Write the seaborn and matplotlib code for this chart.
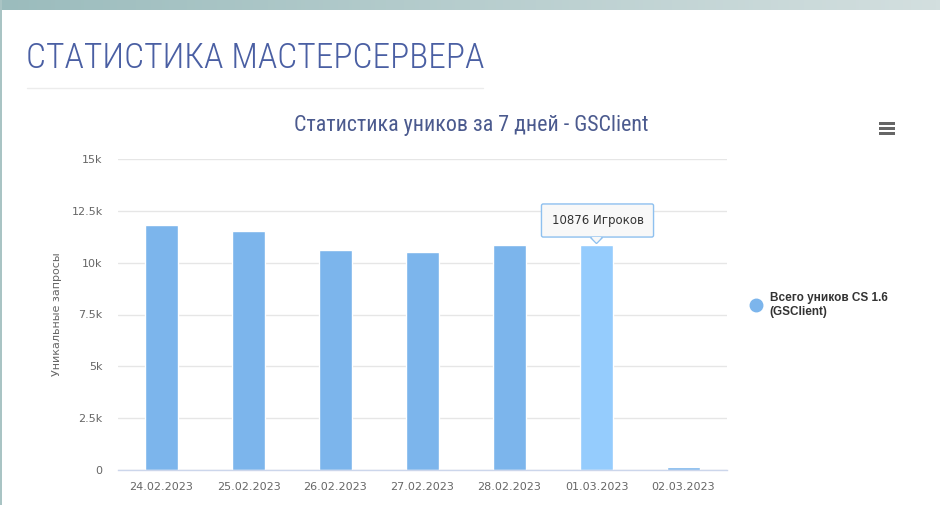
import numpy as np
import pandas as pd
import matplotlib
matplotlib.use("Agg")
import matplotlib.pyplot as plt
import seaborn as sns
from matplotlib.lines import Line2D
from matplotlib.patches import Rectangle, Polygon

# data
dates = ["24.02.2023", "25.02.2023", "26.02.2023", "27.02.2023",
         "28.02.2023", "01.03.2023", "02.03.2023"]
uniques = [11840, 11550, 10590, 10530, 10870, 10876, 140]
y_ticks = [0, 2500, 5000, 7500, 10000, 12500, 15000]
y_tick_labels = ["0", "2.5k", "5k", "7.5k", "10k", "12.5k", "15k"]
hover_idx = 5

page_title = "СТАТИСТИКА МАСТЕРСЕРВЕРА"
chart_title = "Статистика уников за 7 дней - GSClient"
y_title = "Уникальные запросы"
series_name = "Всего уников CS 1.6\n(GSClient)"
tooltip = f"{uniques[hover_idx]} Игроков"

df = pd.DataFrame({"date": dates, "uniques": uniques})

sns.set_theme(style="white")
plt.rcParams["font.family"] = ["DejaVu Sans"]
narrow = ["Roboto Condensed", "DejaVu Sans"]

W, H = 940, 505
fig = plt.figure(figsize=(W / 100, H / 100), dpi=100)

def fx(px):
    return px / W

def fy(py):
    return 1 - py / H

# page decoration: gradient band on top and left border
grad = np.linspace(0, 1, 256).reshape(1, -1)
band = fig.add_axes([0, fy(10), 1, 10 / H])
band.imshow(grad, aspect="auto",
            cmap=matplotlib.colors.LinearSegmentedColormap.from_list("b", ["#9bbcbd", "#d3dfdf"]))
band.axis("off")
fig.add_artist(Rectangle((0, 0), fx(2), 1, transform=fig.transFigure,
                         color="#a9c4c4", lw=0))

fig.text(fx(26), fy(58), page_title, ha="left", va="center", fontsize=25.5,
         color="#4a5fa3", family=narrow, fontweight="light")
fig.add_artist(Line2D([fx(27), fx(483)], [fy(88), fy(88)], transform=fig.transFigure,
                      color="#ececec", lw=1))

fig.text(fx(471), fy(125), chart_title, ha="center", va="center", fontsize=15.8,
         color="#4b5a8e", family=narrow)

# export menu icon
for yy in (123, 128, 133):
    fig.add_artist(Rectangle((fx(879), fy(yy + 1.5)), fx(16), 3 / H,
                             transform=fig.transFigure, color="#666666", lw=0))

ax = fig.add_axes([fx(118), fy(470), fx(727 - 118), (470 - 159) / H])
colors = ["#95ccfd" if i == hover_idx else "#7cb5ec" for i in range(len(dates))]
sns.barplot(data=df, x="date", y="uniques", hue="date", palette=colors,
            width=0.37, legend=False, ax=ax, saturation=1)

ax.set_xlim(-0.5, len(dates) - 0.5)
ax.set_ylim(0, 15000)
ax.set_yticks(y_ticks)
ax.set_yticklabels(y_tick_labels)
ax.yaxis.grid(True, color="#e6e6e6", lw=1)
ax.set_axisbelow(True)
for s in ["top", "right", "left"]:
    ax.spines[s].set_visible(False)
ax.spines["bottom"].set_color("#ccd6eb")
ax.spines["bottom"].set_linewidth(1)
ax.tick_params(axis="y", length=0, pad=11, labelsize=8, labelcolor="#666666")
ax.tick_params(axis="x", length=0, pad=9, labelsize=8, labelcolor="#666666")
ax.set_xticks(np.arange(-0.5, len(dates), 1), minor=True)
ax.tick_params(axis="x", which="minor", length=8, color="#ccd6eb", width=1)
ax.set_xlabel("")
ax.set_ylabel(y_title, fontsize=8, color="#666666", labelpad=7)

# tooltip: box with a small pointer down to the hovered bar
hx, hy = hover_idx, uniques[hover_idx]
to_px = ax.transData
tip = to_px.transform((hx, hy))
px2data = to_px.inverted()
tri = [px2data.transform((tip[0] - 6, tip[1] + 7)),
       px2data.transform((tip[0] + 6, tip[1] + 7)),
       px2data.transform((tip[0], tip[1] + 1))]
ax.add_patch(Polygon(tri, closed=True, fc="#f8f8f8", ec="#8ec0ef", lw=1,
                     zorder=5, clip_on=False))
ax.annotate(tooltip, xy=(hx, hy), xytext=(1, 24),
            textcoords="offset pixels", ha="center", va="center",
            fontsize=8.5, color="#333333", zorder=6,
            bbox=dict(boxstyle="round,pad=0.85,rounding_size=0.15",
                      fc="#f8f8f8", ec="#8ec0ef", lw=1))
ax.add_patch(Polygon([px2data.transform((tip[0] - 5, tip[1] + 7.5)),
                      px2data.transform((tip[0] + 5, tip[1] + 7.5)),
                      px2data.transform((tip[0], tip[1] + 2))],
                     closed=True, fc="#f8f8f8", ec="none", zorder=7, clip_on=False))

handle = Line2D([], [], marker="o", color="#7cb5ec", ls="none", ms=9)
fig.legend([handle], [series_name], loc="upper left",
           bbox_to_anchor=(fx(739), fy(287)), frameon=False,
           prop={"family": "Liberation Sans", "weight": "bold", "size": 8.5},
           labelcolor="#333333", handletextpad=0.2, borderaxespad=0)

fig.savefig("out.png", dpi=100)
